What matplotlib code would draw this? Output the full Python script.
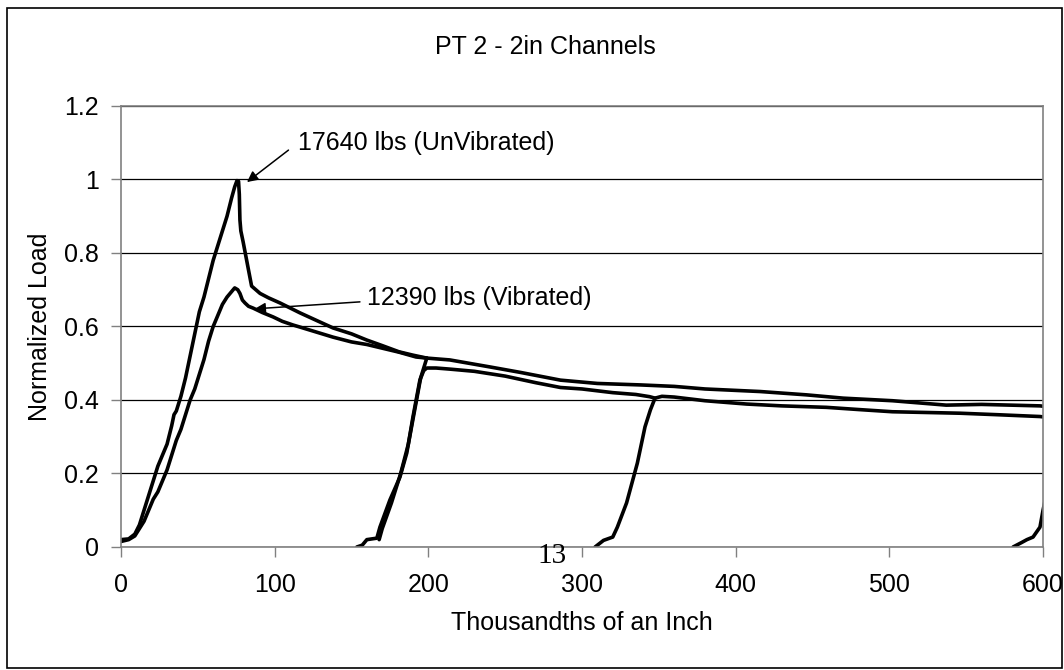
""" Plot normalized load vs displacement for PT 2 """

import numpy as np
import matplotlib.pyplot as plt
import matplotlib.patches as patches

plt.rcParams['font.family'] = ['Liberation Sans', 'DejaVu Sans']

# Unvibrated specimen, first loading (displacement in 1/1000 in)
unvib_x = [0, 5, 9, 12, 15, 18, 21, 24, 27, 30, 33, 34.5, 36, 39, 42, 45,
           48, 51, 54, 57, 60, 63, 66, 69, 72, 74, 75.5, 76.5, 77, 77.4, 78,
           79.5, 82.7, 85, 90.5, 96, 103.5, 116.5, 128, 138, 150, 160, 170,
           181, 190, 199]
unvib_y = [0.02, 0.022, 0.035, 0.06, 0.1, 0.14, 0.18, 0.22, 0.25, 0.28,
           0.33, 0.36, 0.37, 0.41, 0.46, 0.52, 0.58, 0.64, 0.68, 0.73, 0.78,
           0.82, 0.86, 0.90, 0.95, 0.98, 0.997, 0.995, 0.96, 0.89, 0.86,
           0.83, 0.76, 0.71, 0.69, 0.678, 0.664, 0.637, 0.615, 0.596, 0.58,
           0.563, 0.548, 0.531, 0.522, 0.514]

# Unvibrated specimen, reload
unvib_re_x = [168, 170, 176, 182, 187, 191, 195, 199, 214, 240, 260, 286,
              310, 338, 360, 380, 416, 446, 470, 502, 537, 560, 598, 600]
unvib_re_y = [0.02, 0.05, 0.12, 0.2, 0.28, 0.37, 0.46, 0.514, 0.509, 0.49,
              0.475, 0.454, 0.445, 0.441, 0.437, 0.43, 0.423, 0.414, 0.405,
              0.398, 0.386, 0.388, 0.384, 0.383]

# Vibrated specimen, first loading
vib_x = [0, 5, 9, 12, 15, 18, 21, 24, 27, 30, 33, 36, 39, 42, 45, 48, 51,
         54, 57, 60, 63, 66, 69, 72, 74, 76, 77.4, 79, 80.7, 83, 86, 92, 99,
         105, 112, 116, 127, 138, 150, 160, 170, 181, 192, 199]
vib_y = [0.015, 0.02, 0.03, 0.05, 0.07, 0.1, 0.13, 0.15, 0.18, 0.21, 0.25,
         0.29, 0.32, 0.36, 0.4, 0.43, 0.47, 0.51, 0.56, 0.6, 0.63, 0.66,
         0.68, 0.695, 0.705, 0.7, 0.69, 0.672, 0.664, 0.655, 0.65, 0.638,
         0.626, 0.614, 0.604, 0.599, 0.585, 0.571, 0.558, 0.551, 0.541,
         0.53, 0.517, 0.514]

# Vibrated specimen, reloads
vib_re1_x = [153.5, 157, 160, 166.5, 168.5, 175, 181.5, 186, 190, 194.5,
             197, 199, 205, 214, 230, 250, 270, 286, 300, 320, 335, 344, 347.5]
vib_re1_y = [0, 0.005, 0.02, 0.024, 0.054, 0.128, 0.19, 0.256, 0.354, 0.454,
             0.48, 0.487, 0.487, 0.484, 0.478, 0.465, 0.447, 0.434, 0.43,
             0.42, 0.415, 0.409, 0.405]
vib_re2_x = [308.5, 314, 320, 323, 329, 336, 341, 344.5, 347.5, 352, 360,
             380, 407, 430, 459, 480, 502, 546, 570, 598, 600]
vib_re2_y = [0, 0.018, 0.027, 0.054, 0.12, 0.228, 0.327, 0.373, 0.405,
             0.41, 0.408, 0.398, 0.389, 0.384, 0.38, 0.374, 0.368, 0.364,
             0.36, 0.355, 0.354]
vib_re3_x = [580.5, 586, 589.5, 593.5, 598, 600, 602]
vib_re3_y = [0, 0.012, 0.02, 0.027, 0.054, 0.1, 0.14]

peak_labels = ['17640 lbs (UnVibrated)', '12390 lbs (Vibrated)']
x_ticks = [0, 100, 200, 300, 400, 500, 600]
y_ticks = [0, 0.2, 0.4, 0.6, 0.8, 1, 1.2]
y_tick_labels = ['0', '0.2', '0.4', '0.6', '0.8', '1', '1.2']


def main():
    """ Main """
    fig = plt.figure(figsize=(10.64, 6.70), dpi=100)
    ax = fig.add_axes([0.1137, 0.1836, 0.8666, 0.6582])

    # outer chart border
    fig.patches.append(patches.Rectangle(
        (0.0066, 0.003), 0.9915, 0.985, transform=fig.transFigure,
        fill=False, edgecolor='black', linewidth=1.2))

    line_kw = dict(color='black', linewidth=2.6, solid_joinstyle='round',
                   solid_capstyle='round')
    for x, y in [(unvib_x, unvib_y), (unvib_re_x, unvib_re_y),
                 (vib_x, vib_y), (vib_re1_x, vib_re1_y),
                 (vib_re2_x, vib_re2_y), (vib_re3_x, vib_re3_y)]:
        ax.plot(x, y, **line_kw)

    ax.set_xlim(0, 600)
    ax.set_ylim(0, 1.2)
    ax.set_xticks(x_ticks)
    ax.set_yticks(y_ticks)
    ax.set_yticklabels(y_tick_labels)
    ax.yaxis.grid(True, color='black', linewidth=0.9)
    ax.set_axisbelow(True)
    for s in ax.spines.values():
        s.set_color('#808080')
        s.set_linewidth(1.2)
    ax.tick_params(axis='both', direction='out', length=7, width=1,
                   color='#808080', labelsize=18)
    ax.tick_params(axis='x', pad=12)
    ax.tick_params(axis='y', pad=9)

    arrow_kw = dict(arrowstyle='-|>', color='black', lw=1.1,
                    mutation_scale=16, shrinkA=0, shrinkB=0)
    ax.annotate('', xy=(82, 0.993), xytext=(109, 1.08), arrowprops=arrow_kw)
    ax.text(115, 1.099, peak_labels[0], fontsize=18, va='center', ha='left')
    ax.annotate('', xy=(87, 0.648), xytext=(155.5, 0.667),
                arrowprops=arrow_kw)
    ax.text(160, 0.678, peak_labels[1], fontsize=18, va='center', ha='left')

    fig.text(0.513, 0.93, 'PT 2 - 2in Channels', fontsize=18,
             ha='center', va='center')
    fig.text(0.547, 0.060, 'Thousandths of an Inch', fontsize=18,
             ha='center', va='baseline')
    fig.text(0.0376, 0.512, 'Normalized Load', fontsize=18, rotation=90,
             ha='center', va='center')
    # page number printed over the chart
    fig.text(0.519, 0.170, '13', fontsize=21, ha='center', va='center',
             family=['Liberation Serif', 'DejaVu Serif'])

    fig.savefig('out.png', dpi=100)
    return


if __name__ == '__main__':
    main()
